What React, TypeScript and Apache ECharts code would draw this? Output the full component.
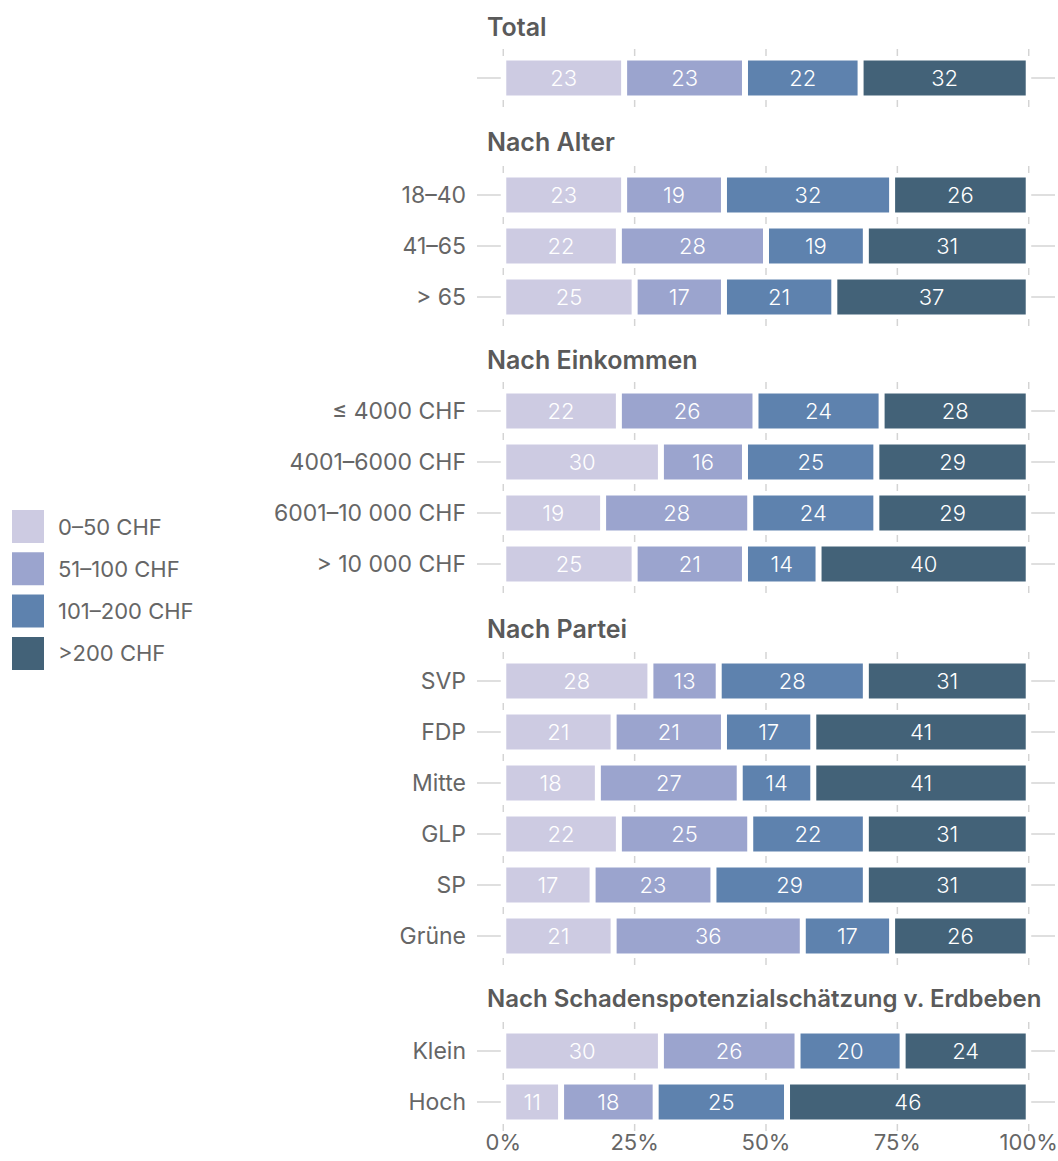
import React, { useEffect, useRef } from "react";
import * as echarts from "echarts";

const brackets = ["0–50 CHF", "51–100 CHF", "101–200 CHF", ">200 CHF"];
const colors = ["#CDCBE2", "#9BA4CE", "#5E82AE", "#436278"];
const xTicks = [0, 25, 50, 75, 100];

const totalRows = [""];
const totalValues = [[23, 23, 22, 32]];

const alterRows = ["18–40", "41–65", "> 65"];
const alterValues = [
  [23, 19, 32, 26],
  [22, 28, 19, 31],
  [25, 17, 21, 37],
];

const einkommenRows = ["≤ 4000 CHF", "4001–6000 CHF", "6001–10 000 CHF", "> 10 000 CHF"];
const einkommenValues = [
  [22, 26, 24, 28],
  [30, 16, 25, 29],
  [19, 28, 24, 29],
  [25, 21, 14, 40],
];

const parteiRows = ["SVP", "FDP", "Mitte", "GLP", "SP", "Grüne"];
const parteiValues = [
  [28, 13, 28, 31],
  [21, 21, 17, 41],
  [18, 27, 14, 41],
  [22, 25, 22, 31],
  [17, 23, 29, 31],
  [21, 36, 17, 26],
];

const schadenRows = ["Klein", "Hoch"];
const schadenValues = [
  [30, 26, 20, 24],
  [11, 18, 25, 46],
];

const panelTitles = [
  "Total",
  "Nach Alter",
  "Nach Einkommen",
  "Nach Partei",
  "Nach Schadenspotenzialschätzung v. Erdbeben",
];
const panelRows = [totalRows, alterRows, einkommenRows, parteiRows, schadenRows];
const panelValues = [totalValues, alterValues, einkommenValues, parteiValues, schadenValues];

// layout
const firstRowCentre = [78, 195, 411, 681, 1051];
const titleCentre = [28, 143, 361, 630, 1000];
const titleSize = [25, 25, 25, 25, 24];
const PITCH = 51;
const FONT = "Inter, 'Noto Sans', sans-serif";
const GRAY = "#666666";
const STUB = "#d4d4d4";

export default function App() {
  const ref = useRef<HTMLDivElement>(null);
  useEffect(() => {
    if (!ref.current) return;
    const chart = echarts.init(ref.current, null, { renderer: "svg" });

    const grids: any[] = [];
    const xAxes: any[] = [];
    const yAxes: any[] = [];
    const series: any[] = [];
    const titles: any[] = [];
    const last = panelRows.length - 1;

    panelRows.forEach((rows, p) => {
      const n = rows.length;
      grids.push({
        left: 477,
        right: 3,
        top: firstRowCentre[p] - PITCH / 2,
        height: n * PITCH,
        containLabel: false,
        outerBoundsMode: "none",
      });
      xAxes.push({
        type: "value",
        gridIndex: p,
        min: -5,
        max: 105,
        axisLine: { show: false },
        axisTick: { show: false },
        splitLine: { show: false },
        axisLabel: {
          show: p === last,
          customValues: xTicks,
          formatter: (v: number) => v + "%",
          color: GRAY,
          fontSize: 22,
          fontFamily: FONT,
          margin: 3,
        },
      });
      yAxes.push({
        type: "category",
        gridIndex: p,
        data: rows,
        inverse: true,
        position: "left",
        axisLine: { show: false },
        splitLine: { show: false },
        axisTick: { show: false },
        axisLabel: { color: GRAY, fontSize: 23, fontFamily: FONT, margin: 11 },
      });

      titles.push({
        text: panelTitles[p],
        left: 487,
        top: titleCentre[p] - 14,
        padding: 0,
        textStyle: { color: "#5a5a5a", fontSize: titleSize[p], fontWeight: 600, fontFamily: FONT },
      });

      // short vertical stubs between rows at each x tick
      const stubData: number[][] = [];
      xTicks.forEach((t) => {
        for (let k = 0; k < n; k++) stubData.push([t, k, -0.5]);
        stubData.push([t, n - 1, 0.5]);
      });
      series.push({
        type: "custom",
        xAxisIndex: p,
        yAxisIndex: p,
        silent: true,
        z: 1,
        data: stubData,
        renderItem: (params: any, api: any) => {
          const c = api.coord([api.value(0), api.value(1)]);
          const band = api.size([0, 1])[1];
          const y = c[1] + api.value(2) * band;
          return {
            type: "line",
            shape: { x1: c[0], y1: y - 3.5, x2: c[0], y2: y + 3.5 },
            style: { stroke: STUB, lineWidth: 1.5 },
          };
        },
      });

      // short horizontal stubs at each row, left and right of the bars
      series.push({
        type: "custom",
        xAxisIndex: p,
        yAxisIndex: p,
        silent: true,
        z: 1,
        data: rows.map((_, k) => [0, k]),
        renderItem: (params: any, api: any) => {
          const k = api.value(1);
          const a = api.coord([-5, k]);
          const b = api.coord([0, k]);
          const c = api.coord([100, k]);
          const d = api.coord([105, k]);
          return {
            type: "group",
            children: [
              {
                type: "line",
                shape: { x1: a[0], y1: a[1], x2: b[0] - 2.5, y2: b[1] },
                style: { stroke: STUB, lineWidth: 1.5 },
              },
              {
                type: "line",
                shape: { x1: c[0] + 2.5, y1: c[1], x2: d[0], y2: d[1] },
                style: { stroke: STUB, lineWidth: 1.5 },
              },
            ],
          };
        },
      });

      brackets.forEach((name, j) => {
        series.push({
          type: "bar",
          name,
          stack: "s" + p,
          xAxisIndex: p,
          yAxisIndex: p,
          barWidth: 41,
          z: 2,
          data: panelValues[p].map((r) => r[j]),
          itemStyle: { color: colors[j], borderColor: "#ffffff", borderWidth: 3 },
          label: {
            show: true,
            position: "inside",
            color: "#ffffff",
            fontSize: 22,
            fontFamily: FONT,
            fontWeight: 300,
          },
        });
      });
    });

    chart.setOption({
      animation: false,
      backgroundColor: "#ffffff",
      title: titles,
      legend: {
        data: brackets,
        orient: "vertical",
        left: 10,
        top: 508,
        padding: 0,
        itemWidth: 34,
        itemHeight: 35,
        itemGap: 5.3,
        icon: "rect",
        selectedMode: false,
        textStyle: { color: GRAY, fontSize: 22, fontFamily: FONT, padding: [0, 0, 0, 8] },
      },
      grid: grids,
      xAxis: xAxes,
      yAxis: yAxes,
      series,
    });
    return () => chart.dispose();
  }, []);

  return (
    <div
      ref={ref}
      style={{ position: "absolute", left: 0, top: 0, width: 1058, height: 1161 }}
    />
  );
}
